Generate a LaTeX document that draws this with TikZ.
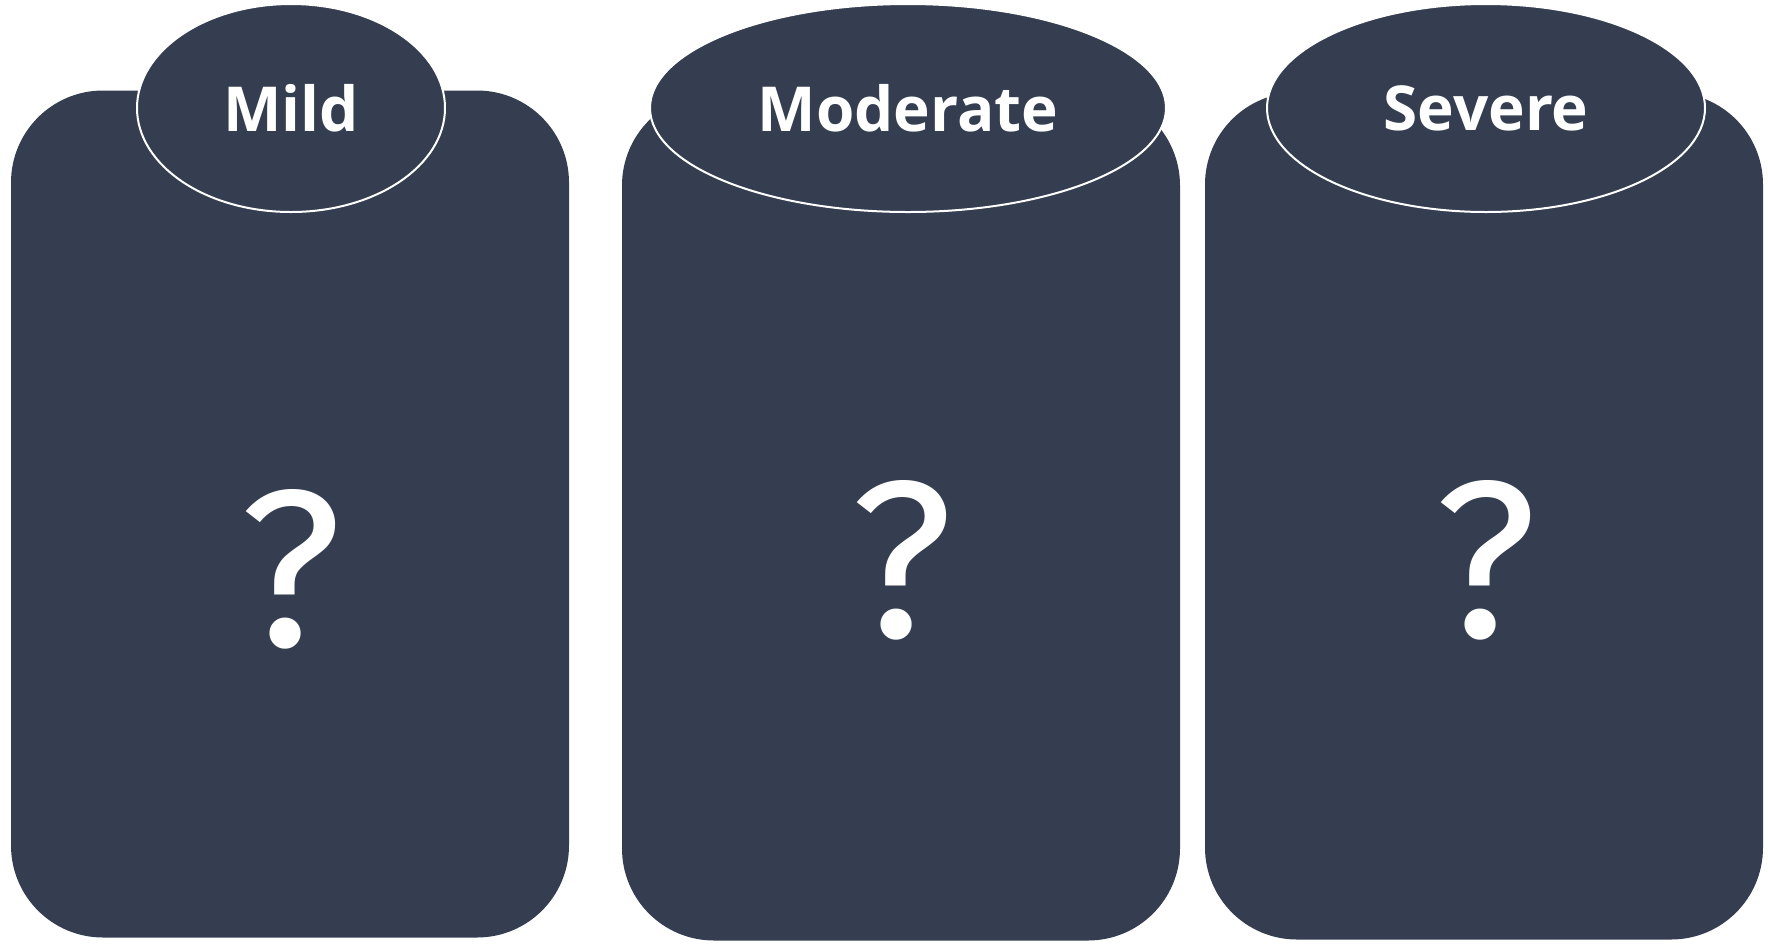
\documentclass[tikz,border=0pt]{standalone}
\usepackage{fontspec}
\usetikzlibrary{shapes.geometric}
\newfontfamily\headfont{Open Sans}
\newfontfamily\markfont{Fira Sans}
\definecolor{slate}{RGB}{52,62,80}

\begin{document}
\begin{tikzpicture}[x=0.5pt, y=-0.5pt,
    panel/.style={rectangle, fill=slate, rounded corners=46pt, minimum width=279pt, minimum height=423.5pt, inner sep=0pt},
    badge/.style={ellipse, fill=slate, draw=white, line width=1pt, minimum height=104pt, inner sep=0pt, text=white, font=\headfont\bfseries\fontsize{31}{36}\selectfont},
    qmark/.style={text=white, inner sep=0pt, font=\markfont\fontsize{112}{120}\selectfont}
]
    \useasboundingbox (0,0) rectangle (1768,944);

    \node[panel] (mildbox) at (290,514) {};
    \node[panel] (modbox) at (901,517) {};
    \node[panel] (sevbox) at (1484,516) {};

    \node[badge, minimum width=154pt] (mild) at (291,108) {Mild};
    \node[badge, minimum width=258pt] (moderate) at (908,108) {Moderate};
    \node[badge, minimum width=219pt] (severe) at (1486,108) {Severe};

    \node[qmark] (mildq) at (291,569) {?};
    \node[qmark] (modq) at (902,560) {?};
    \node[qmark] (sevq) at (1486,560) {?};
\end{tikzpicture}
\end{document}
